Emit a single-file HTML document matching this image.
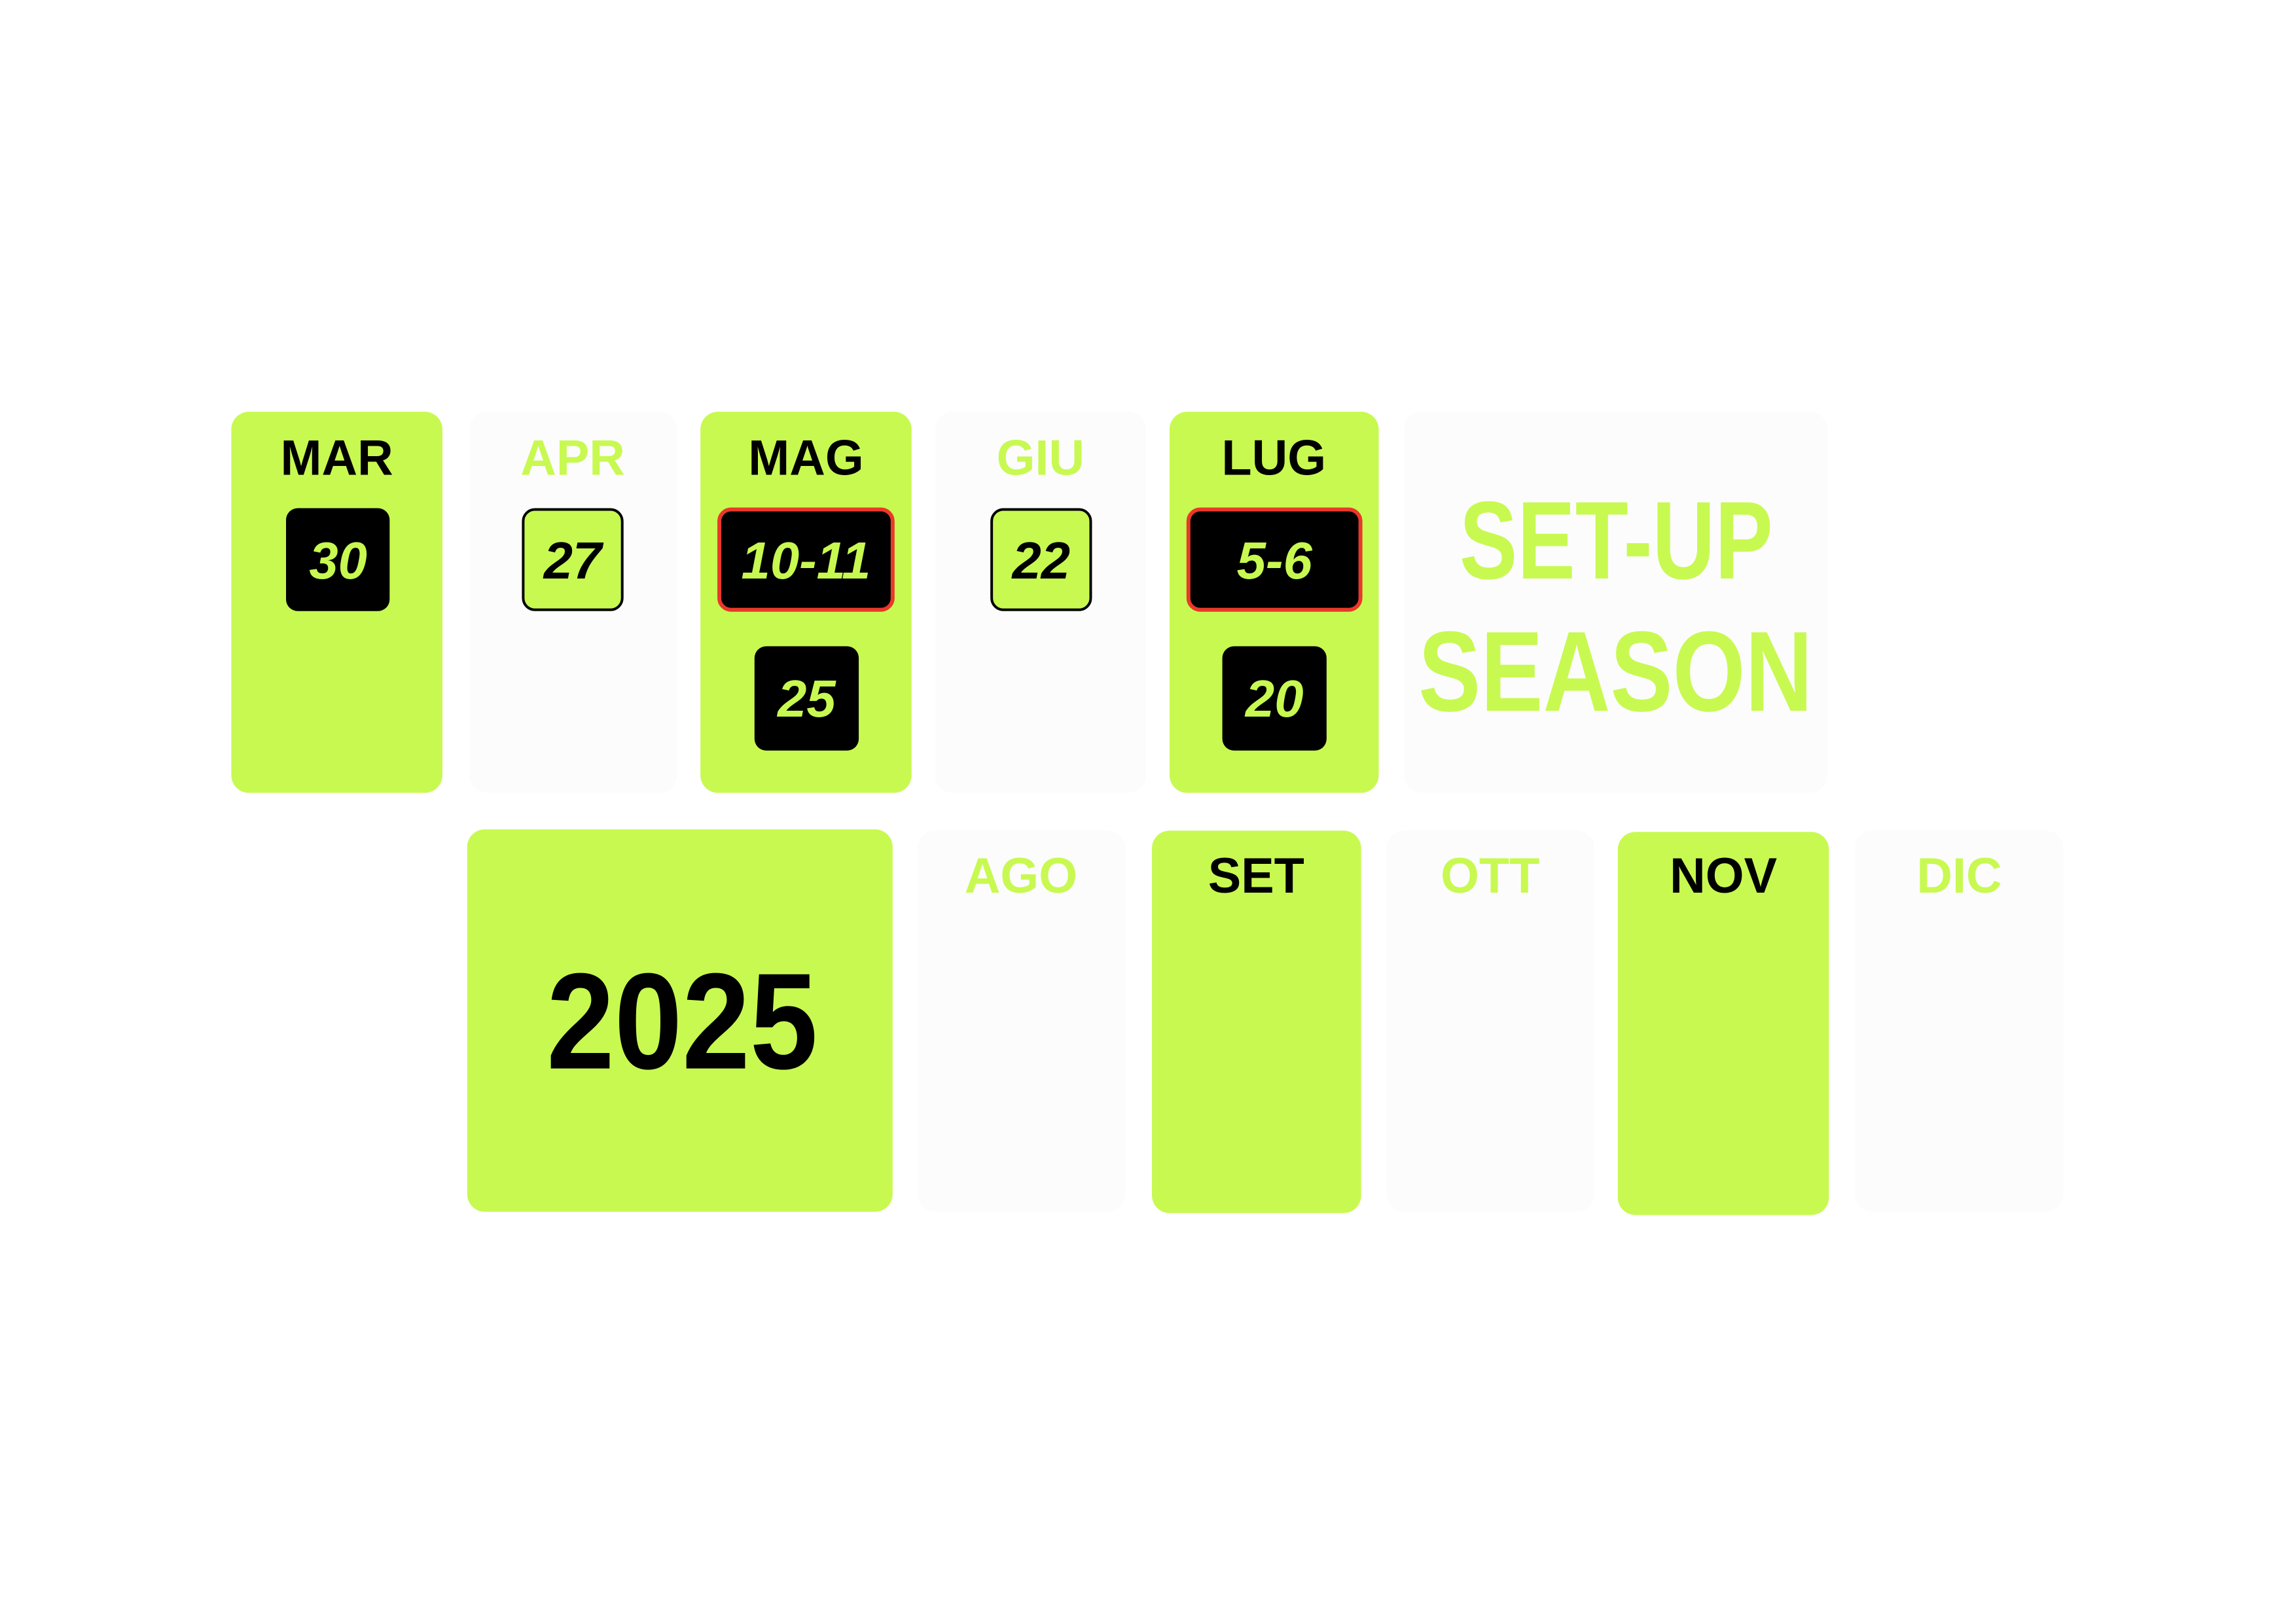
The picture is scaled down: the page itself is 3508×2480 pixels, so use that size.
<!DOCTYPE html>
<html><head><meta charset="utf-8"><style>
html,body{margin:0;padding:0;background:#fff}
svg{display:block}
text{font-family:"Liberation Sans",sans-serif;font-weight:bold}
</style></head><body>
<svg width="3508" height="2480" viewBox="0 0 3508 2480" xmlns="http://www.w3.org/2000/svg">
<rect width="3508" height="2480" fill="#fff"/>
<g transform="scale(0.9955)">
<g>
<rect x="355" y="632" width="324" height="585" rx="27" fill="#c8f951"/>
<rect x="720" y="632" width="319" height="585" rx="27" fill="#fcfcfc"/>
<rect x="1075" y="632" width="324" height="585" rx="27" fill="#c8f951"/>
<rect x="1435" y="632" width="324" height="585" rx="27" fill="#fcfcfc"/>
<rect x="1795" y="632" width="321" height="585" rx="27" fill="#c8f951"/>
<rect x="2155" y="632" width="650" height="585" rx="27" fill="#fcfcfc"/>

<rect x="717" y="1273" width="653" height="587" rx="27" fill="#c8f951"/>
<rect x="1408" y="1275" width="319" height="585" rx="27" fill="#fcfcfc"/>
<rect x="1768" y="1275" width="321" height="587" rx="27" fill="#c8f951"/>
<rect x="2128" y="1275" width="319" height="585" rx="27" fill="#fcfcfc"/>
<rect x="2483" y="1277" width="324" height="588" rx="27" fill="#c8f951"/>
<rect x="2847" y="1275" width="320" height="585" rx="27" fill="#fcfcfc"/>
</g>
<g font-size="76" text-anchor="middle">
<text x="517" y="729" fill="#000">MAR</text>
<text x="879" y="729" fill="#c8f951">APR</text>
<text x="1237" y="729" fill="#000">MAG</text>
<text x="1597" y="729" fill="#c8f951">GIU</text>
<text x="1955" y="729" fill="#000">LUG</text>
<text x="1567" y="1370" fill="#c8f951">AGO</text>
<text x="1928" y="1370" fill="#000">SET</text>
<text x="2287" y="1370" fill="#c8f951">OTT</text>
<text x="2645" y="1370" fill="#000">NOV</text>
<text x="3007" y="1370" fill="#c8f951">DIC</text>
</g>
<g>
<rect x="439" y="780" width="159" height="158" rx="18" fill="#000"/>
<rect x="803" y="782" width="152" height="154" rx="18" fill="#c8f951" stroke="#000" stroke-width="4"/>
<rect x="1104" y="782" width="266" height="154" rx="18" fill="#000" stroke="#e8392a" stroke-width="6"/>
<rect x="1158" y="992" width="160" height="160" rx="18" fill="#000"/>
<rect x="1522" y="782" width="152" height="154" rx="18" fill="#c8f951" stroke="#000" stroke-width="4"/>
<rect x="1824" y="782" width="264" height="154" rx="18" fill="#000" stroke="#e8392a" stroke-width="6"/>
<rect x="1876" y="992" width="160" height="160" rx="18" fill="#000"/>
</g>
<g font-size="80" font-style="italic" text-anchor="middle">
<text x="519" y="888" fill="#c8f951">30</text>
<text x="879" y="888" fill="#000">27</text>
<text x="1237" y="888" fill="#c8f951">10-11</text>
<text x="1238" y="1100" fill="#c8f951">25</text>
<text x="1598" y="888" fill="#000">22</text>
<text x="1956" y="888" fill="#c8f951">5-6</text>
<text x="1956" y="1100" fill="#c8f951">20</text>
</g>
<text x="839" y="1640" font-size="210" fill="#000" textLength="416" lengthAdjust="spacingAndGlyphs">2025</text>
<g fill="#c8f951">
<text x="2240" y="888" font-size="170" textLength="481" lengthAdjust="spacingAndGlyphs">SET-UP</text>
<text x="2177" y="1091" font-size="175" textLength="605" lengthAdjust="spacingAndGlyphs">SEASON</text>
</g>
</g>
</svg>
</body></html>
